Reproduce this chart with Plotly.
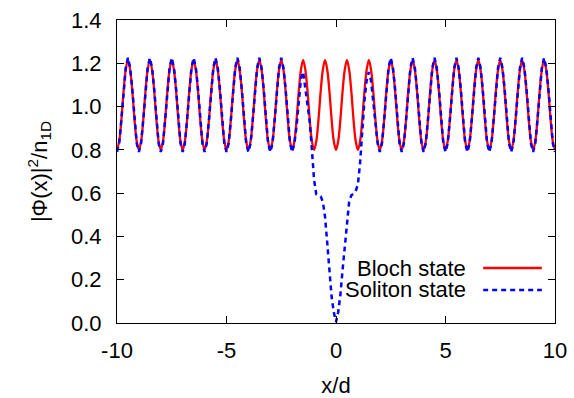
import numpy as np
import plotly.graph_objects as go

# x grid, step 0.1 from -10 to 10
x_vals = np.round(np.arange(-10.0, 10.0001, 0.1), 2)

bloch = [
    0.80, 0.84, 0.94, 1.07, 1.17, 1.215, 1.17, 1.07, 0.94, 0.84,   # -10
    0.80, 0.84, 0.94, 1.07, 1.17, 1.215, 1.17, 1.07, 0.94, 0.84,   # -9
    0.80, 0.84, 0.94, 1.07, 1.17, 1.215, 1.17, 1.07, 0.94, 0.84,   # -8
    0.80, 0.84, 0.94, 1.07, 1.17, 1.215, 1.17, 1.07, 0.94, 0.84,   # -7
    0.80, 0.84, 0.94, 1.07, 1.17, 1.215, 1.17, 1.07, 0.94, 0.84,   # -6
    0.80, 0.84, 0.94, 1.07, 1.17, 1.215, 1.17, 1.07, 0.94, 0.84,   # -5
    0.80, 0.84, 0.94, 1.07, 1.17, 1.215, 1.17, 1.07, 0.94, 0.84,   # -4
    0.80, 0.84, 0.94, 1.07, 1.17, 1.215, 1.17, 1.07, 0.94, 0.84,   # -3
    0.80, 0.84, 0.94, 1.07, 1.17, 1.215, 1.17, 1.07, 0.94, 0.84,   # -2
    0.80, 0.84, 0.94, 1.07, 1.17, 1.215, 1.17, 1.07, 0.94, 0.84,   # -1
    0.80, 0.84, 0.94, 1.07, 1.17, 1.215, 1.17, 1.07, 0.94, 0.84,   # 0
    0.80, 0.84, 0.94, 1.07, 1.17, 1.215, 1.17, 1.07, 0.94, 0.84,   # 1
    0.80, 0.84, 0.94, 1.07, 1.17, 1.215, 1.17, 1.07, 0.94, 0.84,   # 2
    0.80, 0.84, 0.94, 1.07, 1.17, 1.215, 1.17, 1.07, 0.94, 0.84,   # 3
    0.80, 0.84, 0.94, 1.07, 1.17, 1.215, 1.17, 1.07, 0.94, 0.84,   # 4
    0.80, 0.84, 0.94, 1.07, 1.17, 1.215, 1.17, 1.07, 0.94, 0.84,   # 5
    0.80, 0.84, 0.94, 1.07, 1.17, 1.215, 1.17, 1.07, 0.94, 0.84,   # 6
    0.80, 0.84, 0.94, 1.07, 1.17, 1.215, 1.17, 1.07, 0.94, 0.84,   # 7
    0.80, 0.84, 0.94, 1.07, 1.17, 1.215, 1.17, 1.07, 0.94, 0.84,   # 8
    0.80, 0.84, 0.94, 1.07, 1.17, 1.215, 1.17, 1.07, 0.94, 0.84,   # 9
    0.80,                                                          # 10
]

soliton = [
    0.79, 0.83, 0.94, 1.08, 1.18, 1.225, 1.18, 1.08, 0.94, 0.83,   # -10
    0.79, 0.83, 0.94, 1.08, 1.18, 1.225, 1.18, 1.08, 0.94, 0.83,   # -9
    0.79, 0.83, 0.94, 1.08, 1.18, 1.225, 1.18, 1.08, 0.94, 0.83,   # -8
    0.79, 0.83, 0.94, 1.08, 1.18, 1.225, 1.18, 1.08, 0.94, 0.83,   # -7
    0.79, 0.83, 0.94, 1.08, 1.18, 1.225, 1.18, 1.08, 0.94, 0.83,   # -6
    0.79, 0.83, 0.94, 1.08, 1.18, 1.225, 1.18, 1.08, 0.94, 0.83,   # -5
    0.79, 0.83, 0.94, 1.08, 1.18, 1.225, 1.18, 1.08, 0.94, 0.83,   # -4
    0.79, 0.83, 0.94, 1.08, 1.18, 1.225, 1.18, 1.08, 0.94, 0.83,   # -3
    0.79, 0.83, 0.91, 1.03, 1.13, 1.16, 1.08, 1.01, 0.93, 0.80,    # -2
    0.66, 0.595, 0.59, 0.585, 0.56, 0.49, 0.37, 0.25, 0.12, 0.05,  # -1
    0.005, 0.05, 0.13, 0.245, 0.36, 0.47, 0.56, 0.59, 0.597, 0.61, # 0
    0.64, 0.74, 0.89, 1.03, 1.12, 1.16, 1.12, 1.03, 0.91, 0.83,    # 1
    0.79, 0.83, 0.94, 1.08, 1.18, 1.225, 1.18, 1.08, 0.94, 0.83,   # 2
    0.79, 0.83, 0.94, 1.08, 1.18, 1.225, 1.18, 1.08, 0.94, 0.83,   # 3
    0.79, 0.83, 0.94, 1.08, 1.18, 1.225, 1.18, 1.08, 0.94, 0.83,   # 4
    0.79, 0.83, 0.94, 1.08, 1.18, 1.225, 1.18, 1.08, 0.94, 0.83,   # 5
    0.79, 0.83, 0.94, 1.08, 1.18, 1.225, 1.18, 1.08, 0.94, 0.83,   # 6
    0.79, 0.83, 0.94, 1.08, 1.18, 1.225, 1.18, 1.08, 0.94, 0.83,   # 7
    0.79, 0.83, 0.94, 1.08, 1.18, 1.225, 1.18, 1.08, 0.94, 0.83,   # 8
    0.79, 0.83, 0.94, 1.08, 1.18, 1.225, 1.18, 1.08, 0.94, 0.83,   # 9
    0.79,                                                          # 10
]

x_ticks = [-10, -5, 0, 5, 10]
y_ticks = [0.0, 0.2, 0.4, 0.6, 0.8, 1.0, 1.2, 1.4]
labels = ["Bloch state", "Soliton state"]

FONT = "Liberation Sans, Arial, sans-serif"
FS = 22

fig = go.Figure()
fig.add_trace(go.Scatter(x=x_vals, y=bloch, mode="lines", name=labels[0],
                         line=dict(color="#ff0000", width=2.3, shape="spline", smoothing=1)))
fig.add_trace(go.Scatter(x=x_vals, y=soliton, mode="lines", name=labels[1],
                         line=dict(color="#0000ff", width=2.5, dash="5px,4px")))

axis_common = dict(showgrid=False, zeroline=False, showline=True, linecolor="black",
                   linewidth=1, mirror="allticks", ticks="inside", ticklen=7,
                   tickcolor="black", automargin=False,
                   tickfont=dict(family=FONT, size=FS, color="black"))

fig.update_layout(
    width=574, height=398,
    margin=dict(l=117, r=19, t=20, b=75),
    plot_bgcolor="white", paper_bgcolor="white",
    showlegend=False,
    font=dict(family=FONT, size=FS, color="black"),
    xaxis=dict(range=[-10, 10], tickvals=x_ticks, ticktext=[str(v) for v in x_ticks],
               ticklabelstandoff=8,
               title=dict(text="x/d", font=dict(family=FONT, size=FS), standoff=23),
               **axis_common),
    yaxis=dict(range=[0, 1.4], tickvals=y_ticks, ticktext=[f"{v:.1f}" for v in y_ticks],
               ticklabelstandoff=10,
               title=dict(text="|Φ(x)|<sup>2</sup>/n<sub>1D</sub>",
                          font=dict(family=FONT, size=FS), standoff=17),
               **axis_common),
)

# gnuplot-style legend: text right-aligned, line sample to the right
leg_rows = [(0.1815, "#ff0000", "solid", 2.3), (0.109, "#0000ff", "5px,4px", 2.5)]
for lab, (yp, col, dash, w) in zip(labels, leg_rows):
    fig.add_annotation(x=0.801, y=yp, xref="paper", yref="paper", text=lab,
                       showarrow=False, xanchor="right", yanchor="middle",
                       font=dict(family=FONT, size=FS, color="black"))
    fig.add_shape(type="line", xref="paper", yref="paper", x0=0.836, x1=0.970,
                  y0=yp, y1=yp, line=dict(color=col, width=w, dash=dash))

fig.write_html("out.html")
